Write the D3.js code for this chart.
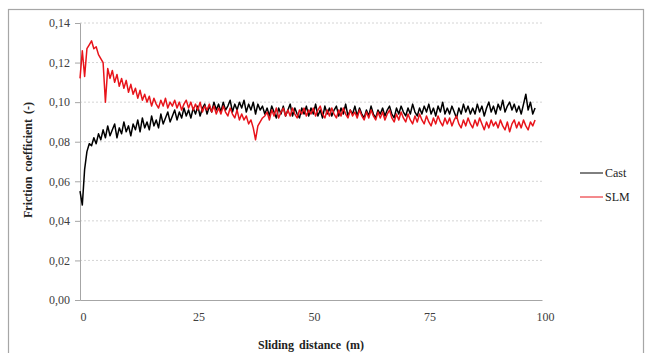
<!DOCTYPE html>
<html>
<head>
<meta charset="utf-8">
<script src="https://cdn.jsdelivr.net/npm/d3@7"></script>
<style>
  body { margin: 0; background: #fff; }
  svg { display: block; }
  text { font-family: "Liberation Serif", "Times New Roman", serif; }
</style>
</head>
<body>
<div id="chart"></div>
<script>
// sliding distance step between samples (m)
const step = 0.5

const yTicks = [0, 0.02, 0.04, 0.06, 0.08, 0.10, 0.12, 0.14]
const xTicks = [0, 25, 50, 75, 100]

// Cast, one row per 5 m
const cast = [
  0.055, 0.048, 0.066, 0.075, 0.079, 0.078, 0.082, 0.079, 0.084, 0.081,
  0.086, 0.082, 0.088, 0.083, 0.086, 0.089, 0.082, 0.087, 0.084, 0.090,
  0.085, 0.088, 0.083, 0.089, 0.086, 0.091, 0.085, 0.092, 0.087, 0.090,
  0.086, 0.093, 0.088, 0.091, 0.087, 0.094, 0.089, 0.092, 0.095, 0.090,
  0.093, 0.096, 0.091, 0.095, 0.092, 0.097, 0.093, 0.096, 0.092, 0.097,
  0.094, 0.098, 0.093, 0.097, 0.099, 0.094, 0.098, 0.095, 0.100, 0.096,
  0.099, 0.095, 0.100, 0.096, 0.098, 0.101, 0.095, 0.099, 0.096, 0.100,
  0.097, 0.101, 0.095, 0.099, 0.096, 0.100, 0.094, 0.099, 0.096, 0.098,
  0.094, 0.097, 0.093, 0.098, 0.095, 0.092, 0.097, 0.094, 0.098, 0.093,
  0.096, 0.099, 0.093, 0.097, 0.094, 0.092, 0.097, 0.094, 0.098, 0.093,
  0.097, 0.094, 0.099, 0.093, 0.096, 0.092, 0.098, 0.094, 0.097, 0.093,
  0.096, 0.098, 0.093, 0.097, 0.094, 0.099, 0.093, 0.096, 0.094, 0.098,
  0.093, 0.097, 0.094, 0.092, 0.096, 0.093, 0.098, 0.094, 0.092, 0.096,
  0.094, 0.097, 0.093, 0.096, 0.098, 0.094, 0.092, 0.097, 0.094, 0.098,
  0.095, 0.093, 0.097, 0.094, 0.099, 0.095, 0.093, 0.097, 0.094, 0.098,
  0.095, 0.099, 0.094, 0.097, 0.093, 0.098, 0.095, 0.100, 0.094, 0.097,
  0.094, 0.098, 0.095, 0.092, 0.097, 0.094, 0.099, 0.095, 0.098, 0.094,
  0.097, 0.094, 0.099, 0.095, 0.098, 0.093, 0.097, 0.100, 0.095, 0.098,
  0.094, 0.099, 0.096, 0.101, 0.095, 0.098, 0.100, 0.096, 0.099, 0.095,
  0.098, 0.094, 0.099, 0.104, 0.096, 0.100, 0.094, 0.097
]

// SLM, one row per 5 m
const slm = [
  0.112, 0.126, 0.113, 0.127, 0.129, 0.131, 0.127, 0.128, 0.124, 0.122,
  0.120, 0.100, 0.117, 0.112, 0.116, 0.110, 0.114, 0.108, 0.112, 0.107,
  0.111, 0.105, 0.109, 0.104, 0.107, 0.102, 0.106, 0.101, 0.104, 0.100,
  0.103, 0.098, 0.102, 0.099, 0.097, 0.101, 0.098, 0.102, 0.097, 0.100,
  0.098, 0.101, 0.097, 0.100, 0.096, 0.099, 0.101, 0.097, 0.100, 0.096,
  0.099, 0.096, 0.100, 0.095, 0.098, 0.096, 0.099, 0.095, 0.098, 0.094,
  0.097, 0.094, 0.098, 0.095, 0.093, 0.097, 0.094, 0.092, 0.096, 0.091,
  0.094, 0.091, 0.093, 0.089, 0.091, 0.087, 0.081, 0.088, 0.090, 0.092,
  0.093, 0.095, 0.091, 0.096, 0.093, 0.097, 0.092, 0.095, 0.097, 0.093,
  0.096, 0.093, 0.097, 0.094, 0.092, 0.096, 0.094, 0.097, 0.093, 0.096,
  0.094, 0.097, 0.093, 0.096, 0.098, 0.094, 0.092, 0.096, 0.093, 0.097,
  0.094, 0.092, 0.096, 0.093, 0.097, 0.094, 0.092, 0.096, 0.093, 0.095,
  0.092, 0.096, 0.093, 0.091, 0.095, 0.092, 0.096, 0.093, 0.091, 0.095,
  0.092, 0.095, 0.091, 0.094, 0.096, 0.092, 0.090, 0.094, 0.091, 0.095,
  0.092, 0.090, 0.094, 0.091, 0.089, 0.093, 0.090, 0.094, 0.091, 0.089,
  0.093, 0.090, 0.088, 0.092, 0.089, 0.093, 0.090, 0.088, 0.092, 0.089,
  0.092, 0.088, 0.091, 0.093, 0.089, 0.087, 0.091, 0.088, 0.092, 0.089,
  0.087, 0.091, 0.088, 0.092, 0.089, 0.086, 0.090, 0.087, 0.091, 0.088,
  0.090, 0.087, 0.091, 0.088, 0.086, 0.090, 0.085, 0.089, 0.091, 0.087,
  0.090, 0.087, 0.091, 0.088, 0.086, 0.090, 0.088, 0.091
]

const series = [
  { name: 'Cast', values: cast, color: '#000000' },
  { name: 'SLM', values: slm, color: '#e8141b' }
]

const width = 645
const height = 353
const serif = '"Liberation Serif", "Times New Roman", serif'

const svg = d3.select('#chart')
  .append('svg')
  .attr('width', width)
  .attr('height', height)

// outer frame
svg.append('rect')
  .attr('x', 8.5).attr('y', 9.5)
  .attr('width', 635).attr('height', 360)
  .style('fill', 'none')
  .style('stroke', '#a6a6a6')
  .style('stroke-width', 1.2)

const x = d3.scaleLinear().domain([0, 100]).range([80, 542])
const y = d3.scaleLinear().domain([0, 0.14]).range([300, 23])

const fmt = d => d3.format('.2f')(d).replace('.', ',')

// gridlines
svg.append('g')
  .selectAll('line')
  .data(yTicks.filter(d => d > 0))
  .enter().append('line')
  .attr('x1', x(0)).attr('x2', x(100))
  .attr('y1', d => y(d)).attr('y2', d => y(d))
  .style('stroke', '#d4d4d4')
  .style('stroke-width', 1)
  .style('stroke-dasharray', '2,2')

// y axis
const yAxis = svg.append('g')
  .attr('transform', `translate(${x(0)},0)`)
  .call(d3.axisLeft(y).tickValues(yTicks).tickFormat(fmt).tickSize(5).tickPadding(5))
  .attr('font-family', serif)
  .attr('font-size', 12)
yAxis.select('.domain').style('stroke', '#a6a6a6')
yAxis.selectAll('.tick line').style('stroke', '#a6a6a6')
yAxis.selectAll('.tick text').style('fill', '#404040')

// x axis
const xAxis = svg.append('g')
  .attr('transform', `translate(0,${y(0)})`)
  .call(d3.axisBottom(x).tickValues(xTicks).tickSize(0).tickPadding(12))
  .attr('font-family', serif)
  .attr('font-size', 12)
xAxis.select('.domain').style('stroke', '#a6a6a6')
xAxis.selectAll('.tick text')
  .style('fill', '#404040')
  .attr('dx', 3)

// lines
const line = d3.line()
  .x((d, i) => x(i * step))
  .y(d => y(d))

svg.append('g')
  .selectAll('path')
  .data(series)
  .enter().append('path')
  .attr('d', d => line(d.values))
  .style('fill', 'none')
  .style('stroke', d => d.color)
  .style('stroke-width', 1.5)
  .style('stroke-linejoin', 'round')

// axis titles
svg.append('text')
  .attr('x', 311).attr('y', 349)
  .attr('text-anchor', 'middle')
  .style('font-size', '12px')
  .style('font-weight', 'bold')
  .style('word-spacing', '2px')
  .style('fill', '#222')
  .text('Sliding distance (m)')

svg.append('text')
  .attr('transform', 'translate(32,160) rotate(-90)')
  .attr('text-anchor', 'middle')
  .style('font-size', '12px')
  .style('font-weight', 'bold')
  .style('word-spacing', '2px')
  .style('fill', '#222')
  .text('Friction coefficient (-)')

// legend
const legend = svg.append('g')
  .selectAll('g')
  .data(series)
  .enter().append('g')
  .attr('transform', (d, i) => `translate(580,${173 + i * 24})`)

legend.append('line')
  .attr('x1', 0).attr('x2', 23)
  .style('stroke', d => d.color)
  .style('stroke-width', 1)

legend.append('text')
  .attr('x', 25).attr('dy', '0.35em')
  .style('font-size', '12px')
  .style('fill', '#222')
  .text(d => d.name)
</script>
</body>
</html>
